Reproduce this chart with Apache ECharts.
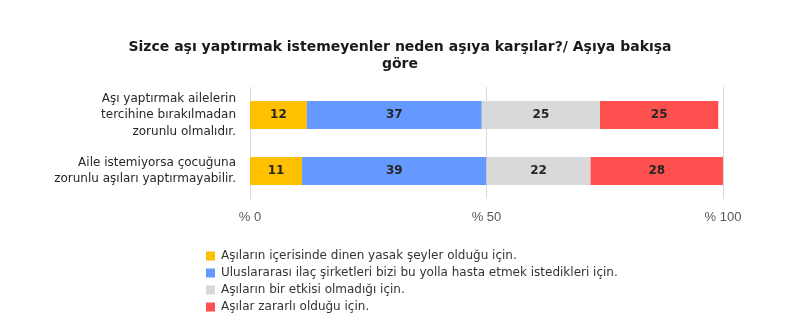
<!DOCTYPE html>
<html>
<head>
<meta charset="utf-8">
<script src="https://cdn.jsdelivr.net/npm/echarts@6/dist/echarts.min.js"></script>
<style>
  html, body { margin: 0; padding: 0; background: #fff; }
  #chart { width: 800px; height: 332px; }
</style>
</head>
<body>
<div id="chart"></div>
<script>
// Statements (top to bottom on the chart)
const categories = [
  'Aşı yaptırmak ailelerin\ntercihine bırakılmadan\nzorunlu olmalıdır.',
  'Aile istemiyorsa çocuğuna\nzorunlu aşıları yaptırmayabilir.'
];

// Reasons given for refusing vaccines
const seriesNames = [
  'Aşıların içerisinde dinen yasak şeyler olduğu için.',
  'Uluslararası ilaç şirketleri bizi bu yolla hasta etmek istedikleri için.',
  'Aşıların bir etkisi olmadığı için.',
  'Aşılar zararlı olduğu için.'
];

// Percentages per statement, in the same order as categories
const religiousValues = [12, 11];
const pharmaValues = [37, 39];
const noEffectValues = [25, 22];
const harmfulValues = [25, 28];

const axisTicks = [0, 50, 100];

const colors = ['#FFC000', '#6699FF', '#D9D9D9', '#FF5050'];
const font = '"DejaVu Sans", "Liberation Sans", Arial, sans-serif';
const axisFont = '"Liberation Sans", Arial, sans-serif';

const allValues = [religiousValues, pharmaValues, noEffectValues, harmfulValues];

const chart = echarts.init(document.getElementById('chart'));

chart.setOption({
  animation: false,
  textStyle: { fontFamily: font },
  title: {
    text: 'Sizce aşı yaptırmak istemeyenler neden aşıya karşılar?/ Aşıya bakışa\ngöre',
    left: 'center',
    top: 34,
    textStyle: {
      fontFamily: font,
      fontSize: 14,
      fontWeight: 'bold',
      color: '#1a1a1a',
      lineHeight: 17
    }
  },
  legend: {
    orient: 'vertical',
    left: 201,
    top: 245,
    itemWidth: 9,
    itemHeight: 9,
    itemGap: 5,
    icon: 'rect',
    data: seriesNames,
    textStyle: { fontFamily: font, fontSize: 12, color: '#333333', padding: [0, 0, 0, 1] }
  },
  grid: {
    left: 250,
    right: 77,
    top: 87,
    height: 112,
    containLabel: false
  },
  xAxis: {
    type: 'value',
    min: 0,
    max: 100,
    interval: 50,
    axisLine: { show: false },
    axisTick: { show: false },
    splitLine: { show: true, lineStyle: { color: '#D9D9D9', width: 1 } },
    axisLabel: {
      margin: 12,
      fontFamily: axisFont,
      fontSize: 13,
      color: '#595959',
      formatter: v => axisTicks.includes(v) ? '% ' + v : ''
    }
  },
  yAxis: {
    type: 'category',
    inverse: true,
    data: categories,
    axisLine: { show: false },
    axisTick: { show: false },
    axisLabel: {
      margin: 14,
      fontFamily: font,
      fontSize: 12,
      lineHeight: 16.5,
      padding: [5, 0, 0, 0],
      color: '#262626',
      align: 'right'
    }
  },
  series: seriesNames.map((name, i) => ({
    name: name,
    type: 'bar',
    stack: 'total',
    barWidth: 28,
    itemStyle: { color: colors[i] },
    label: {
      show: true,
      position: 'inside',
      fontFamily: font,
      fontSize: 12,
      fontWeight: 'bold',
      color: '#262626'
    },
    data: allValues[i]
  }))
});
</script>
</body>
</html>
